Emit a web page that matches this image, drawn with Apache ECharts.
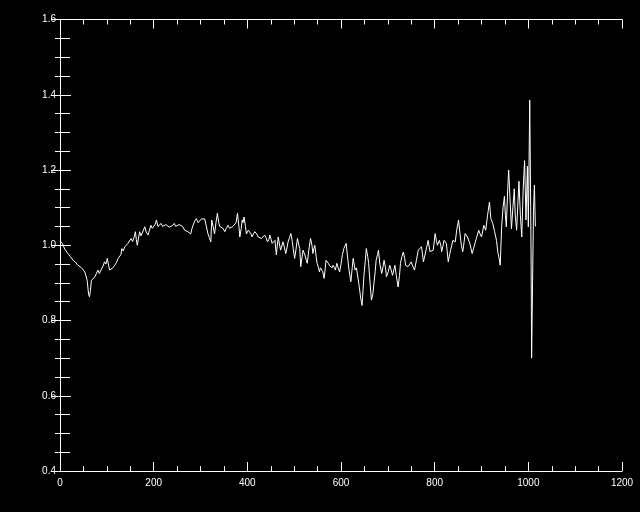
<!DOCTYPE html>
<html>
<head>
<meta charset="utf-8">
<script src="https://cdn.jsdelivr.net/npm/echarts@6/dist/echarts.min.js"></script>
<style>html,body{margin:0;padding:0;background:#000;}#c{width:640px;height:512px;}</style>
</head>
<body>
<div id="c"></div>
<script>
var xValues = [0,5,10,17,22,28,33,38,42,46,50,53,58,61,63,65,67,70,74,78,81,84,88,92,95,98,101,104,106,109,113,117,121,124,127,130,132,135,138,141,145,148,152,155,158,161,163,165,167,170,173,177,181,184,188,191,194,197,199,203,206,209,212,216,219,223,226,230,233,237,240,244,247,251,254,258,262,266,270,273,276,279,282,284,288,291,295,298,302,305,309,312,316,319,322,324,327,330,333,336,339,341,344,348,352,355,359,362,366,369,373,376,379,382,384,387,389,391,393,396,398,402,405,408,410,413,416,420,423,427,430,434,437,440,443,446,448,451,453,456,459,462,464,466,469,471,473,476,479,482,485,487,490,493,496,498,501,504,507,510,512,514,517,519,521,523,526,528,531,535,538,540,542,544,547,549,552,554,556,558,561,564,566,568,571,573,576,578,581,583,586,588,591,594,597,600,603,606,609,611,614,617,621,624,626,628,630,633,636,639,642,645,647,649,652,654,657,659,662,665,668,670,673,675,678,680,683,687,690,692,695,697,701,704,707,710,713,715,718,722,725,727,730,733,736,738,741,743,747,750,753,757,761,765,769,772,776,779,783,786,790,793,797,801,804,806,810,813,815,818,820,825,829,832,834,839,844,847,851,854,857,860,863,865,870,875,880,883,886,889,894,897,900,905,909,913,917,920,924,928,932,935,937,940,943,946,949,951,953,956,958,961,964,967,970,972,975,978,980,983,986,989,992,995,998,1000,1003,1005,1006,1007,1009,1011,1013,1015];
var yValues = [1.012,1.005,0.99,0.978,0.97,0.96,0.955,0.947,0.95,0.94,0.945,0.929,0.907,0.87,0.863,0.88,0.907,0.91,0.915,0.916,0.934,0.925,0.93,0.945,0.956,0.95,0.965,0.945,0.934,0.93,0.94,0.947,0.955,0.965,0.96,0.975,0.991,0.985,0.995,0.99,1.005,1.0,1.018,1.01,1.02,1.036,1.015,1.0,1.005,1.036,1.025,1.03,1.049,1.035,1.027,1.04,1.053,1.045,1.04,1.055,1.067,1.05,1.045,1.058,1.05,1.045,1.055,1.055,1.048,1.045,1.052,1.058,1.05,1.045,1.055,1.058,1.05,1.04,1.045,1.036,1.04,1.03,1.045,1.053,1.065,1.071,1.06,1.058,1.07,1.075,1.07,1.067,1.03,1.02,1.009,1.067,1.05,1.03,1.06,1.085,1.06,1.05,1.05,1.045,1.036,1.045,1.053,1.045,1.04,1.05,1.053,1.06,1.085,1.05,1.022,1.045,1.067,1.06,1.075,1.05,1.03,1.04,1.045,1.03,1.022,1.03,1.036,1.03,1.022,1.025,1.018,1.02,1.027,1.02,1.009,1.015,1.027,1.015,1.005,1.01,1.013,0.974,1.0,1.022,1.0,0.987,0.995,1.009,0.995,0.978,0.995,1.009,1.02,1.031,1.01,0.991,0.965,0.99,1.018,1.0,0.991,0.943,0.97,0.987,0.98,0.974,0.96,0.952,0.985,1.018,1.0,0.978,0.99,1.0,0.97,0.952,0.94,0.929,0.94,0.943,0.93,0.912,0.935,0.96,0.955,0.952,0.945,0.947,0.94,0.947,0.94,0.934,0.952,0.94,0.929,0.95,0.975,0.991,0.995,1.005,0.969,0.935,0.903,0.94,0.965,0.95,0.934,0.94,0.943,0.89,0.86,0.84,0.88,0.92,0.96,0.991,0.97,0.952,0.9,0.854,0.87,0.895,0.93,0.96,0.975,0.987,0.95,0.925,0.945,0.96,0.94,0.916,0.93,0.947,0.935,0.92,0.935,0.947,0.92,0.889,0.92,0.952,0.97,0.982,0.965,0.947,0.945,0.943,0.95,0.956,0.945,0.934,0.96,0.987,0.991,0.996,0.956,0.96,0.995,1.013,0.983,0.985,0.987,1.031,1.01,1.0,1.013,1.0,0.983,1.0,1.013,1.005,0.956,0.975,0.987,1.013,1.009,1.04,1.067,1.031,1.0,0.983,1.01,1.031,1.022,1.005,0.978,0.991,1.005,1.018,1.04,1.03,1.022,1.053,1.04,1.08,1.115,1.071,1.058,1.036,1.013,0.98,0.969,0.947,1.049,1.1,1.13,1.08,1.049,1.15,1.2,1.12,1.044,1.1,1.15,1.08,1.04,1.12,1.17,1.08,1.022,1.15,1.225,1.067,1.21,1.049,1.386,1.1,0.943,0.70,0.9,1.093,1.16,1.05];
var xTickLabels = ['0','200','400','600','800','1000','1200'];
var yTickLabels = ['0.4','0.6','0.8','1.0','1.2','1.4','1.6'];

var points = xValues.map(function (x, i) { return [x, yValues[i]]; });
var font = 'Liberation Sans';
var axisLineStyle = { show: true, lineStyle: { color: '#fff', width: 1 } };

var chart = echarts.init(document.getElementById('c'), null, { renderer: 'canvas' });
chart.setOption({
  backgroundColor: '#000',
  animation: false,
  grid: { left: 60, right: 18, top: 19.5, bottom: 41, containLabel: false },
  xAxis: [{
    type: 'value', min: 0, max: 1200, interval: 200, position: 'bottom',
    axisLine: axisLineStyle,
    axisTick: { show: true, inside: true, length: 9, lineStyle: { color: '#fff' } },
    minorTick: { show: true, splitNumber: 4, length: 5, lineStyle: { color: '#fff' } },
    splitLine: { show: false },
    axisLabel: { color: '#fff', fontFamily: font, fontSize: 10, margin: 7,
      formatter: function (v) { return xTickLabels[Math.round(v / 200)]; } }
  }, {
    type: 'value', min: 0, max: 1200, interval: 200, position: 'top',
    axisLine: axisLineStyle,
    axisTick: { show: true, inside: true, length: 9, lineStyle: { color: '#fff' } },
    minorTick: { show: true, splitNumber: 4, length: 5, lineStyle: { color: '#fff' } },
    splitLine: { show: false },
    axisLabel: { show: false }
  }],
  yAxis: [{
    type: 'value', min: 0.4, max: 1.6, interval: 0.2, position: 'left',
    axisLine: axisLineStyle,
    axisTick: { show: true, inside: true, length: 11, lineStyle: { color: '#fff' } },
    minorTick: { show: true, splitNumber: 4, length: 10, lineStyle: { color: '#fff' } },
    splitLine: { show: false },
    axisLabel: { color: '#fff', fontFamily: font, fontSize: 10, margin: 4,
      formatter: function (v) { return yTickLabels[Math.round((v - 0.4) / 0.2)]; } }
  }, {
    type: 'value', min: 0.4, max: 1.6, interval: 0.2, position: 'right',
    axisLine: axisLineStyle,
    axisTick: { show: true, inside: true, length: 9, lineStyle: { color: '#fff' } },
    minorTick: { show: true, splitNumber: 4, length: 5, lineStyle: { color: '#fff' } },
    splitLine: { show: false },
    axisLabel: { show: false }
  }],
  series: [{
    type: 'line', xAxisIndex: 0, yAxisIndex: 0, data: points,
    showSymbol: false, symbol: 'none',
    lineStyle: { color: '#fff', width: 1 }
  }]
});
</script>
</body>
</html>
